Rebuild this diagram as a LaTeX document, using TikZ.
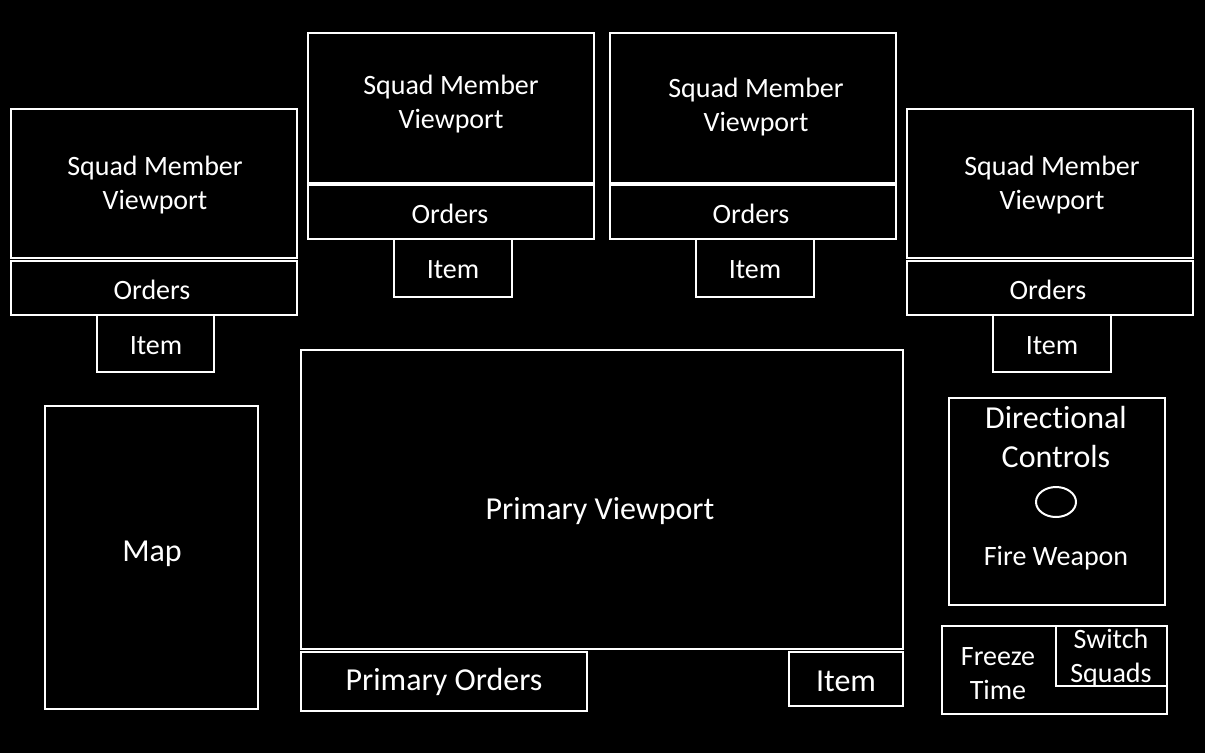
\documentclass[tikz,border=0pt]{standalone}
\usepackage{fontspec}
\setmainfont{Carlito}[Ligatures=NoCommon, Contextuals=NoAlternate]
\tikzset{every picture/.style={line width=2pt}}
\tikzset{
  panel/.style={draw=white, text=white, inner sep=0pt, align=center,
    font=\fontsize{28}{34}\selectfont},
  bigpanel/.style={panel, font=\fontsize{32}{39}\selectfont},
  label/.style={text=white, inner sep=0pt, align=center,
    font=\fontsize{28}{34}\selectfont},
  biglabel/.style={label, font=\fontsize{32}{39}\selectfont}
}

\begin{document}
\begin{tikzpicture}[x=1pt,y=-1pt]
\fill [black] (0,0) rectangle (1205,753);
\useasboundingbox (0,0) rectangle (1205,753);
% squad member 1
\node [panel, minimum width=286, minimum height=149] (view1) at (154,183.5) {};
\node [label] (view1t) at (155,185) {Squad Member\\Viewport};
\node [panel, minimum width=286, minimum height=54] (ord1) at (154,288) {};
\node [label] (ord1t) at (152,290) {Orders};
\node [panel, minimum width=117, minimum height=57] (item1) at (155.5,343.5) {};
\node [label] (item1t) at (156,345.5) {Item};
% squad member 2
\node [panel, minimum width=286, minimum height=150] (view2) at (451,108) {};
\node [label] (view2t) at (451,104) {Squad Member\\Viewport};
\node [panel, minimum width=286, minimum height=54] (ord2) at (451,212) {};
\node [label] (ord2t) at (450,214) {Orders};
\node [panel, minimum width=118, minimum height=58] (item2) at (453,268) {};
\node [label] (item2t) at (453,270) {Item};
% squad member 3
\node [panel, minimum width=286, minimum height=150] (view3) at (753,108) {};
\node [label] (view3t) at (756,107) {Squad Member\\Viewport};
\node [panel, minimum width=286, minimum height=54] (ord3) at (753,212) {};
\node [label] (ord3t) at (751,214) {Orders};
\node [panel, minimum width=118, minimum height=58] (item3) at (755,268) {};
\node [label] (item3t) at (755,270) {Item};
% squad member 4
\node [panel, minimum width=286, minimum height=149] (view4) at (1050,183.5) {};
\node [label] (view4t) at (1052,185) {Squad Member\\Viewport};
\node [panel, minimum width=286, minimum height=54] (ord4) at (1050,288) {};
\node [label] (ord4t) at (1048,290) {Orders};
\node [panel, minimum width=118, minimum height=57] (item4) at (1052,343.5) {};
\node [label] (item4t) at (1052,345.5) {Item};
% map
\node [bigpanel, minimum width=213, minimum height=303] (map) at (151.5,557.5) {};
\node [biglabel] (mapt) at (152,554) {Map};
% primary
\node [bigpanel, minimum width=602, minimum height=299] (prim) at (602,499.5) {};
\node [biglabel] (primt) at (600,511) {Primary Viewport};
\node [bigpanel, minimum width=286, minimum height=59] (pord) at (444,681.5) {};
\node [biglabel] (pordt) at (444,681.5) {Primary Orders};
\node [bigpanel, minimum width=114, minimum height=54] (pitem) at (846,679) {};
\node [biglabel] (pitemt) at (846,681) {Item};
% directional controls
\node [panel, minimum width=216, minimum height=207] (dir) at (1057,501.5) {};
\node [biglabel] (dirt) at (1056,437) {Directional\\Controls};
\draw [white] (1056,502) ellipse (20 and 15);
\node [label] (fire) at (1056,558) {Fire Weapon};
% freeze / switch
\node [panel, minimum width=225, minimum height=88] (freeze) at (1054.5,670) {};
\node [label] (freezet) at (998,674) {Freeze\\Time};
\node [panel, minimum width=111, minimum height=60] (switch) at (1111.5,656) {};
\node [label] (switcht) at (1111,658) {Switch\\Squads};
\end{tikzpicture}
\end{document}
